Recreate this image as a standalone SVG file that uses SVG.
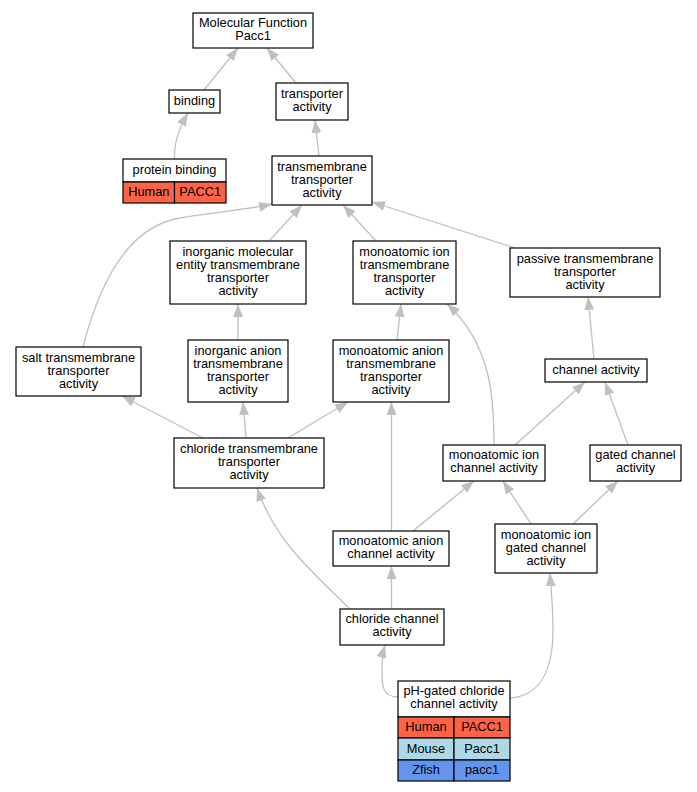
<svg xmlns="http://www.w3.org/2000/svg" width="697" height="792" viewBox="0 0 697 792">
<style>
.n rect{fill:#fff;stroke:#000;stroke-width:1.2}
text{font-family:"Liberation Sans",Arial,sans-serif;font-size:12.8px;text-anchor:middle;fill:#000}
.e path{fill:none;stroke:#c0c0c0;stroke-width:1.3;marker-end:url(#ah)}
.hu{fill:#ff6347 !important}
.mo{fill:#add8e6 !important}
.zf{fill:#6495ed !important}
</style>
<defs>
<marker id="ah" viewBox="0 0 13 10" refX="13" refY="5" markerWidth="13" markerHeight="10" markerUnits="userSpaceOnUse" orient="auto">
<path d="M0,0 L13,5 L0,10 z" fill="#c0c0c0"/>
</marker>
</defs>
<rect width="697" height="792" fill="#fff"/>
<g class="e" id="edges">
<path d="M204,90 L238,48"/>
<path d="M296,83 L267,48"/>
<path d="M174.5,159 C174,140 180,127 188,113"/>
<path d="M319,156 L315,120"/>
<path d="M83,347 C95,300 120,228 180,218 C215,212 245,210 272,204"/>
<path d="M269,241 L302,205"/>
<path d="M376,241 L343,205"/>
<path d="M515,248 L372,202"/>
<path d="M238,340 L238,304"/>
<path d="M397,340 L401,304"/>
<path d="M494,445 C494,400 492,345 447,304"/>
<path d="M594,359 L588,297"/>
<path d="M203,438 L122,396"/>
<path d="M246,438 L243,402"/>
<path d="M288,438 L348,402"/>
<path d="M515,445 L585,382"/>
<path d="M628,445 L605,382"/>
<path d="M391.5,531 L391.5,402"/>
<path d="M413,531 L474,481"/>
<path d="M531,524 L503,481"/>
<path d="M573,524 L618,481"/>
<path d="M350,609 C310,570 275,540 257,488"/>
<path d="M391.5,609 L391.5,566"/>
<path d="M398,697 C382,697 382,685 382,670 C382,660 383,652 385,645"/>
<path d="M510,698 C540,696 553,670 553,630 C553,605 551,590 550,573"/>
</g>
<g class="n" id="n_mf"><rect x="193" y="13" width="120" height="35"/><text x="253" y="26.5">Molecular Function</text><text x="253" y="39.5">Pacc1</text></g>
<g class="n" id="n_binding"><rect x="169" y="90" width="51" height="23"/><text x="194.5" y="104.5">binding</text></g>
<g class="n" id="n_transporter"><rect x="276" y="83" width="72" height="37"/><text x="312" y="98">transporter</text><text x="312" y="111">activity</text></g>
<g class="n" id="n_protein_binding"><rect x="123" y="159" width="103" height="23"/><rect class="hu" x="123" y="182" width="51.5" height="21"/><rect class="hu" x="174.5" y="182" width="51.5" height="21"/><text x="174.5" y="174">protein binding</text><text x="148.8" y="196">Human</text><text x="200.2" y="196">PACC1</text></g>
<g class="n" id="n_tm"><rect x="272" y="156" width="100" height="49"/><text x="322" y="170.5">transmembrane</text><text x="322" y="183.5">transporter</text><text x="322" y="196.5">activity</text></g>
<g class="n" id="n_inorg_mol"><rect x="170" y="241" width="136" height="63"/><text x="238" y="256">inorganic molecular</text><text x="238" y="269">entity transmembrane</text><text x="238" y="282">transporter</text><text x="238" y="295">activity</text></g>
<g class="n" id="n_mono_ion_tm"><rect x="353" y="241" width="103" height="63"/><text x="404.5" y="256">monoatomic ion</text><text x="404.5" y="269">transmembrane</text><text x="404.5" y="282">transporter</text><text x="404.5" y="295">activity</text></g>
<g class="n" id="n_passive"><rect x="510" y="248" width="150" height="49"/><text x="585" y="262.5">passive transmembrane</text><text x="585" y="275.5">transporter</text><text x="585" y="288.5">activity</text></g>
<g class="n" id="n_salt"><rect x="16" y="347" width="125" height="49"/><text x="78.5" y="361.5">salt transmembrane</text><text x="78.5" y="374.5">transporter</text><text x="78.5" y="387.5">activity</text></g>
<g class="n" id="n_inorg_anion"><rect x="188" y="340" width="100" height="62"/><text x="238" y="354.5">inorganic anion</text><text x="238" y="367.5">transmembrane</text><text x="238" y="380.5">transporter</text><text x="238" y="393.5">activity</text></g>
<g class="n" id="n_mono_anion_tm"><rect x="333" y="340" width="116" height="62"/><text x="391" y="354.5">monoatomic anion</text><text x="391" y="367.5">transmembrane</text><text x="391" y="380.5">transporter</text><text x="391" y="393.5">activity</text></g>
<g class="n" id="n_channel"><rect x="545" y="359" width="102" height="23"/><text x="596" y="374">channel activity</text></g>
<g class="n" id="n_chloride_tm"><rect x="174" y="438" width="150" height="50"/><text x="249" y="453">chloride transmembrane</text><text x="249" y="466">transporter</text><text x="249" y="479">activity</text></g>
<g class="n" id="n_mono_ion_channel"><rect x="443" y="445" width="102" height="36"/><text x="494" y="459">monoatomic ion</text><text x="494" y="472">channel activity</text></g>
<g class="n" id="n_gated"><rect x="590" y="445" width="91" height="36"/><text x="635.5" y="459">gated channel</text><text x="635.5" y="472">activity</text></g>
<g class="n" id="n_mono_anion_channel"><rect x="333" y="531" width="116" height="35"/><text x="391" y="545">monoatomic anion</text><text x="391" y="558">channel activity</text></g>
<g class="n" id="n_mono_ion_gated"><rect x="495" y="524" width="102" height="49"/><text x="546" y="538.5">monoatomic ion</text><text x="546" y="551.5">gated channel</text><text x="546" y="564.5">activity</text></g>
<g class="n" id="n_chloride_channel"><rect x="340" y="609" width="104" height="36"/><text x="392" y="623">chloride channel</text><text x="392" y="636">activity</text></g>
<g class="n" id="n_ph_gated"><rect x="398" y="681" width="112" height="36"/><rect class="hu" x="398" y="717" width="56" height="21"/><rect class="hu" x="454" y="717" width="56" height="21"/><rect class="mo" x="398" y="738" width="56" height="22"/><rect class="mo" x="454" y="738" width="56" height="22"/><rect class="zf" x="398" y="760" width="56" height="21"/><rect class="zf" x="454" y="760" width="56" height="21"/><text x="454" y="695">pH-gated chloride</text><text x="454" y="708">channel activity</text><text x="426" y="731">Human</text><text x="482" y="731">PACC1</text><text x="426" y="753">Mouse</text><text x="482" y="753">Pacc1</text><text x="426" y="774">Zfish</text><text x="482" y="774">pacc1</text></g>
</svg>
